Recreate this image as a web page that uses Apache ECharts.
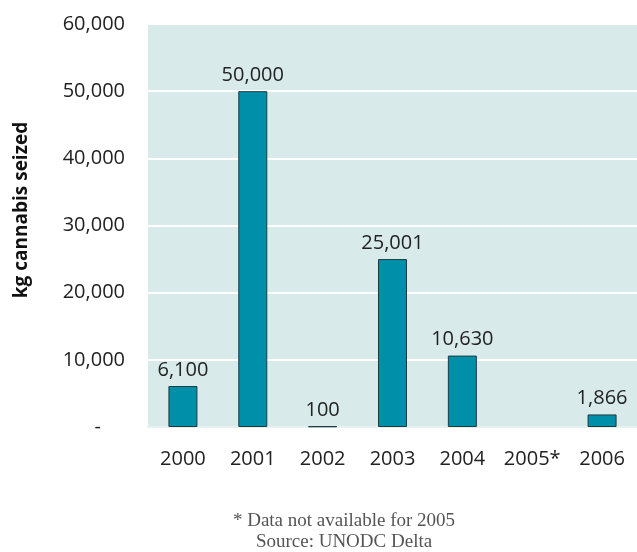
<!DOCTYPE html>
<html>
<head>
<meta charset="utf-8">
<script src="https://cdn.jsdelivr.net/npm/echarts@6/dist/echarts.min.js"></script>
<style>
html,body{margin:0;padding:0;background:#fff;}
#c{width:637px;height:552px;}
</style>
</head>
<body>
<div id="c"></div>
<script>
const categories = ['2000','2001','2002','2003','2004','2005*','2006'];
const seized = [6100, 50000, 100, 25001, 10630, null, 1866];
const yTicks = [0, 10000, 20000, 30000, 40000, 50000, 60000];
const axisTitle = 'kg cannabis seized';
const footnote = ['* Data not available for 2005', 'Source: UNODC Delta'];

const fmt = v => v.toLocaleString('en-US');
const chart = echarts.init(document.getElementById('c'));
chart.setOption({
  animation: false,
  grid: {left: 148, right: 0, top: 24, bottom: 125, show: true, backgroundColor: '#d9eaea', borderWidth: 0},
  xAxis: {
    type: 'category', data: categories,
    axisLine: {show: true, lineStyle: {color: '#e6f1f1', width: 2}},
    axisTick: {show: false},
    axisLabel: {interval: 0, color: '#222', fontSize: 20, fontFamily: 'Open Sans', margin: 22}
  },
  yAxis: {
    type: 'value', min: yTicks[0], max: yTicks[yTicks.length-1], interval: 10000,
    axisLine: {show: false}, axisTick: {show: false},
    splitLine: {show: true, lineStyle: {color: '#ffffff', width: 2}},
    axisLabel: {
      color: '#222', fontSize: 20, fontFamily: 'Open Sans', margin: 23,
      formatter: v => v === 0 ? '{d|-}' : fmt(v),
      rich: {d: {fontSize: 20, fontFamily: 'Open Sans', color: '#222', padding: [0, 24, 0, 0]}}
    }
  },
  series: [{
    type: 'bar', data: seized, barWidth: 29,
    itemStyle: {color: '#008fa8', borderColor: '#1d3a40', borderWidth: 1},
    label: {show: true, position: 'top', distance: 6, color: '#222', fontSize: 20, fontFamily: 'Open Sans',
      formatter: p => p.value == null ? '' : fmt(p.value)}
  }],
  graphic: [
    {type: 'text', x: 22, y: 210, rotation: Math.PI / 2,
      style: {text: axisTitle, fill: '#111', font: 'bold 19px "Open Sans"', align: 'center', verticalAlign: 'middle'}},
    {type: 'text', x: 344, y: 521,
      style: {text: footnote[0], fill: '#555', font: '19px "Liberation Serif"', align: 'center', verticalAlign: 'middle'}},
    {type: 'text', x: 344, y: 542,
      style: {text: footnote[1], fill: '#555', font: '19px "Liberation Serif"', align: 'center', verticalAlign: 'middle'}}
  ]
});
</script>
</body>
</html>
